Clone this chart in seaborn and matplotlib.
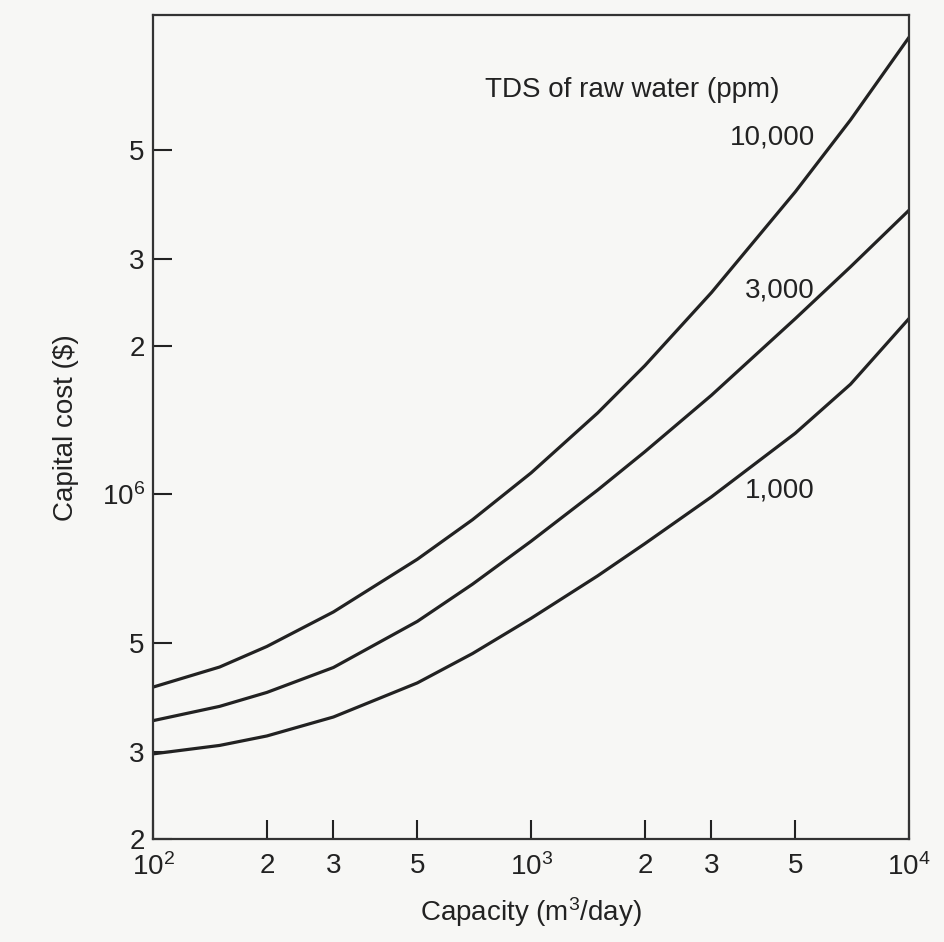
import numpy as np
import pandas as pd
import seaborn as sns
import matplotlib
matplotlib.use("Agg")
import matplotlib.pyplot as plt

# capacity (m3/day) and capital cost ($)
capacity = [100, 150, 200, 300, 500, 700, 1000, 1500, 2000, 3000, 5000, 7000, 10000]
cost_10000 = [4.07e5, 4.47e5, 4.92e5, 5.78e5, 7.39e5, 8.89e5, 1.106e6, 1.463e6, 1.825e6, 2.566e6, 4.107e6, 5.745e6, 8.45e6]
cost_3000 = [3.48e5, 3.72e5, 3.97e5, 4.46e5, 5.53e5, 6.58e5, 8.04e5, 1.021e6, 1.221e6, 1.589e6, 2.272e6, 2.894e6, 3.77e6]
cost_1000 = [2.98e5, 3.10e5, 3.24e5, 3.54e5, 4.15e5, 4.76e5, 5.61e5, 6.84e5, 7.95e5, 9.89e5, 1.331e6, 1.673e6, 2.274e6]

tds_labels = ["10,000", "3,000", "1,000"]
label_y = [5.3e6, 2.59e6, 1.02e6]

xticks = [100, 200, 300, 500, 1000, 2000, 3000, 5000, 10000]
xticklabels = [r"$\mathregular{10^2}$", "2", "3", "5", r"$\mathregular{10^3}$", "2", "3", "5", r"$\mathregular{10^4}$"]
yticks = [2e5, 3e5, 5e5, 1e6, 2e6, 3e6, 5e6]
yticklabels = ["2", "3", "5", r"$\mathregular{10^6}$", "2", "3", "5"]

df = pd.DataFrame({
    "capacity": capacity * 3,
    "cost": cost_10000 + cost_3000 + cost_1000,
    "tds": [tds_labels[0]] * len(capacity) + [tds_labels[1]] * len(capacity) + [tds_labels[2]] * len(capacity),
})

sns.set_style("ticks")
plt.rcParams["font.family"] = ["Liberation Sans", "DejaVu Sans"]
plt.rcParams["mathtext.fontset"] = "custom"
plt.rcParams["mathtext.rm"] = "Liberation Sans"
plt.rcParams["mathtext.it"] = "Liberation Sans:italic"

bg = "#f7f7f5"
ink = "#222222"

fig = plt.figure(figsize=(9.45, 9.42), dpi=100, facecolor=bg)
ax = fig.add_axes([0.162, 0.109, 0.800, 0.875])
ax.set_facecolor(bg)

sns.lineplot(data=df, x="capacity", y="cost", hue="tds", palette=[ink] * 3,
             linewidth=2.3, legend=False, ax=ax)

ax.set_xscale("log")
ax.set_yscale("log")
ax.set_xlim(100, 10000)
ax.set_ylim(2e5, 9.37e6)

ax.set_xticks(xticks)
ax.set_xticklabels(xticklabels)
ax.set_yticks(yticks)
ax.set_yticklabels(yticklabels)
ax.minorticks_off()
ax.tick_params(axis="both", direction="in", length=14, width=1.5, color=ink,
               labelsize=20, labelcolor=ink)
ax.tick_params(axis="x", pad=10)
ax.tick_params(axis="y", pad=6)

for s in ax.spines.values():
    s.set_visible(True)
    s.set_linewidth(1.6)
    s.set_color("#333333")

ax.set_xlabel(r"Capacity (m$\mathregular{^3}$/day)", fontsize=20, color=ink, labelpad=10)
ax.set_ylabel("Capital cost ($)", fontsize=20, color=ink, labelpad=16)

ax.text(755, 6.6e6, "TDS of raw water (ppm)", fontsize=20, color=ink, ha="left", va="center")
for lab, yy in zip(tds_labels, label_y):
    ax.text(5640, yy, lab, fontsize=20, color=ink, ha="right", va="center")

fig.savefig("out.png", dpi=100, facecolor=bg)
